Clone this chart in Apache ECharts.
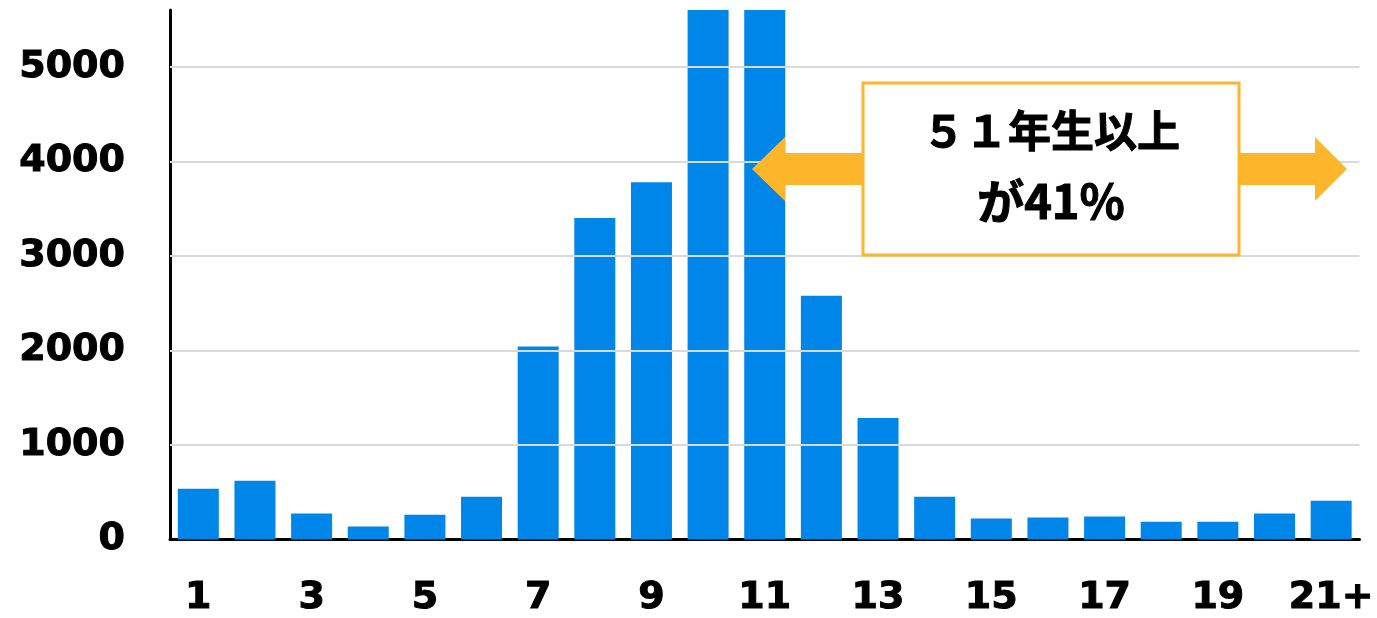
<!DOCTYPE html>
<html><head><meta charset="utf-8">
<script src="https://cdn.jsdelivr.net/npm/echarts@6/dist/echarts.min.js"></script>
<style>html,body{margin:0;padding:0;background:#fff}#c{width:1377px;height:618px}</style>
</head><body><div id="c"></div>
<script>
const categories = ['1','2','3','4','5','6','7','8','9','10','11','12','13','14','15','16','17','18','19','20','21+'];
const counts = [537, 621, 274, 137, 263, 453, 2042, 3400, 3779, 6300, 6100, 2579, 1284, 453, 221, 232, 242, 189, 189, 274, 410];
const gridValues = [1000, 2000, 3000, 4000, 5000];
const noteLine1 = '５１年生以上';
const noteLine2 = 'が41%';

const chart = echarts.init(document.getElementById('c'));
const orange = '#FDB52B';
const labelStyle = {color: '#000', fontWeight: 'bold', fontSize: 38, fontFamily: 'DejaVu Sans', textBorderColor: '#000', textBorderWidth: 1};
chart.setOption({
  animation: false,
  grid: {left: 170, right: 17, top: 10, bottom: 75},
  xAxis: {
    type: 'category', data: categories,
    axisLine: {lineStyle: {color: '#000', width: 3}},
    axisTick: {show: false},
    axisLabel: Object.assign({interval: 1, margin: 40}, labelStyle)
  },
  yAxis: {
    type: 'value', min: 0, max: 5600, interval: 1000,
    axisLine: {show: true, lineStyle: {color: '#000', width: 3}},
    axisTick: {show: false},
    splitLine: {show: false},
    axisLabel: Object.assign({showMaxLabel: false, margin: 45,
      formatter: v => (v % 1000 === 0 ? String(v) : '')}, labelStyle)
  },
  series: [
    {
      type: 'line', data: [], z: 0, silent: true,
      markLine: {
        silent: true, symbol: 'none', label: {show: false},
        lineStyle: {color: '#D9D9D9', width: 2, type: 'solid'},
        data: gridValues.map(v => ({yAxis: v}))
      }
    },
    {
      type: 'bar', data: counts, barWidth: 41, z: 2,
      itemStyle: {color: '#0085E8'}
    }
  ],
  graphic: [
    {type: 'polygon', z: 100, shape: {points: [[870,153],[785,153],[785,137],[752,169],[785,201],[785,185],[870,185]]}, style: {fill: orange}},
    {type: 'polygon', z: 100, shape: {points: [[1232,153],[1315,153],[1315,137],[1347,169],[1315,201],[1315,185],[1232,185]]}, style: {fill: orange}},
    {type: 'rect', z: 101, shape: {x: 863, y: 83, width: 376, height: 172}, style: {fill: '#fff', stroke: orange, lineWidth: 3}},
    {type: 'text', z: 102, x: 1051, y: 131, style: {text: noteLine1, fill: '#000', font: 'bold 43px "Noto Sans CJK JP"', align: 'center', verticalAlign: 'middle', stroke: '#000', lineWidth: 1}},
    {type: 'text', z: 102, x: 1051, y: 201, style: {text: noteLine2, fill: '#000', font: 'bold 47px "Noto Sans CJK JP"', align: 'center', verticalAlign: 'middle', stroke: '#000', lineWidth: 1}}
  ]
});
</script></body></html>
